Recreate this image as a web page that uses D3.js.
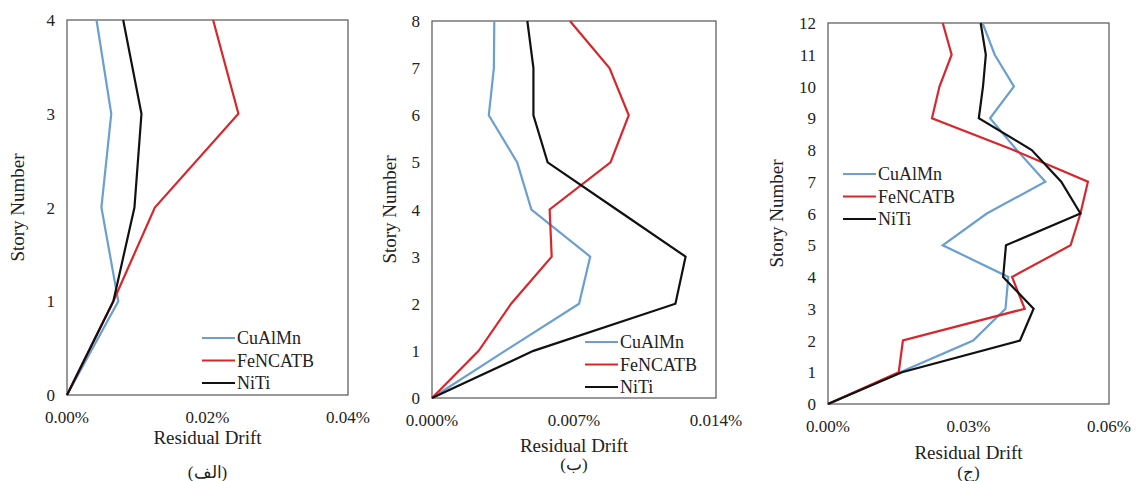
<!DOCTYPE html>
<html>
<head>
<meta charset="utf-8">
<script src="https://cdn.jsdelivr.net/npm/d3@7"></script>
<style>
  body { margin: 0; background: #fff; }
</style>
</head>
<body>
<svg id="chart" width="1137" height="481"></svg>
<script>
const seriesNames = ["CuAlMn", "FeNCATB", "NiTi"];
const seriesColors = ["#6a9fd0", "#d8262c", "#111111"];
const fontFam = "'Liberation Serif', 'DejaVu Serif', 'Times New Roman', serif";

// panel a (4 stories)
const storiesA = [0, 1, 2, 3, 4];
const cuAlMnA = [0, 0.0073, 0.0049, 0.0063, 0.0042];
const feNCATBA = [0, 0.0066, 0.0125, 0.0244, 0.0208];
const niTiA = [0, 0.0066, 0.0096, 0.0106, 0.0080];
const xTicksA = [0, 0.02, 0.04];

// panel b (8 stories)
const storiesB = [0, 1, 2, 3, 4, 5, 6, 7, 8];
const cuAlMnB = [0, 0.0036, 0.00725, 0.0078, 0.0049, 0.0042, 0.0028, 0.00305, 0.00307];
const feNCATBB = [0, 0.0023, 0.0039, 0.0059, 0.0058, 0.0088, 0.0097, 0.00875, 0.0068];
const niTiB = [0, 0.0050, 0.0120, 0.0125, 0.0091, 0.0057, 0.0050, 0.0050, 0.0047];
const xTicksB = [0, 0.007, 0.014];

// panel c (12 stories)
const storiesC = [0, 1, 2, 3, 4, 5, 6, 7, 8, 9, 10, 11, 12];
const cuAlMnC = [0, 0.0154, 0.0310, 0.0379, 0.0385, 0.0245, 0.0339, 0.0464, 0.0403, 0.0346, 0.0397, 0.0356, 0.0330];
const feNCATBC = [0, 0.0151, 0.0160, 0.0420, 0.0393, 0.0518, 0.0539, 0.0555, 0.0396, 0.0222, 0.0238, 0.0264, 0.0245];
const niTiC = [0, 0.0158, 0.0410, 0.0439, 0.0374, 0.0380, 0.0539, 0.0498, 0.0435, 0.0322, 0.0331, 0.0337, 0.0326];
const xTicksC = [0, 0.03, 0.06];

const panels = [
  { stories: storiesA, values: [cuAlMnA, feNCATBA, niTiA], xTicks: xTicksA, digits: 2,
    box: [67, 348, 20, 395], yLab: 18, caption: "(الف)", capY: 472, titleY: 437,
    legend: [202, 338] },
  { stories: storiesB, values: [cuAlMnB, feNCATBB, niTiB], xTicks: xTicksB, digits: 3,
    box: [432, 716, 21, 398], yLab: 390, caption: "(ب)", capY: 464, titleY: 445,
    legend: [585, 342] },
  { stories: storiesC, values: [cuAlMnC, feNCATBC, niTiC], xTicks: xTicksC, digits: 2,
    box: [828, 1109, 23, 404], yLab: 777, caption: "(ج)", capY: 472, titleY: 452,
    legend: [843, 174] }
];

const svg = d3.select("#chart")
  .style("font-family", fontFam);

panels.forEach(p => {
  const [x0, x1, y0, y1] = p.box;
  const maxStory = d3.max(p.stories);
  const x = d3.scaleLinear().domain([0, d3.max(p.xTicks)]).range([x0, x1]);
  const y = d3.scaleLinear().domain([0, maxStory]).range([y1, y0]);
  const g = svg.append("g");

  // frame
  g.append("rect")
    .attr("x", x0).attr("y", y0)
    .attr("width", x1 - x0).attr("height", y1 - y0)
    .attr("fill", "none").attr("stroke", "#555").attr("stroke-width", 1.2);

  // y ticks
  g.selectAll("text.ytick")
    .data(p.stories)
    .join("text")
    .attr("class", "ytick")
    .attr("x", x0 - 12)
    .attr("y", d => y(d) + 6)
    .attr("text-anchor", "end")
    .attr("font-family", fontFam)
    .attr("fill", "#222")
    .style("font-size", "17px")
    .text(d => d);

  // x ticks
  g.selectAll("text.xtick")
    .data(p.xTicks)
    .join("text")
    .attr("class", "xtick")
    .attr("x", d => x(d))
    .attr("y", y1 + 28)
    .attr("text-anchor", "middle")
    .attr("font-family", fontFam)
    .attr("fill", "#222")
    .style("font-size", "17px")
    .text(d => d.toFixed(p.digits) + "%");

  // axis titles
  g.append("text")
    .attr("x", (x0 + x1) / 2)
    .attr("y", p.titleY + 7)
    .attr("text-anchor", "middle")
    .attr("font-family", fontFam)
    .attr("fill", "#222")
    .style("font-size", "19px")
    .text("Residual Drift");

  g.append("text")
    .attr("transform", `translate(${p.yLab + 6},${(y0 + y1) / 2}) rotate(-90)`)
    .attr("text-anchor", "middle")
    .attr("font-family", fontFam)
    .attr("fill", "#222")
    .style("font-size", "19px")
    .text("Story Number");

  g.append("text")
    .attr("x", (x0 + x1) / 2)
    .attr("y", p.capY + 6)
    .attr("text-anchor", "middle")
    .attr("font-family", fontFam)
    .attr("fill", "#222")
    .style("font-size", "17px")
    .text(p.caption);

  // lines
  const line = d3.line()
    .x(d => x(d[1]))
    .y(d => y(d[0]));

  p.values.forEach((vals, i) => {
    g.append("path")
      .datum(p.stories.map((s, k) => [s, vals[k]]))
      .attr("fill", "none")
      .attr("stroke", seriesColors[i])
      .attr("stroke-width", 2.2)
      .attr("stroke-linejoin", "miter")
      .attr("d", line);
  });

  // legend
  const [lx, ly] = p.legend;
  const leg = g.selectAll("g.leg")
    .data(seriesNames)
    .join("g")
    .attr("class", "leg")
    .attr("transform", (d, i) => `translate(${lx},${ly + i * 22.5})`);
  leg.append("line")
    .attr("x1", 0).attr("x2", 33)
    .attr("stroke", (d, i) => seriesColors[i])
    .attr("stroke-width", 2.2);
  leg.append("text")
    .attr("x", 35).attr("y", 6)
    .attr("font-family", fontFam)
    .attr("fill", "#222")
    .style("font-size", "18px")
    .text(d => d);
});
</script>
</body>
</html>
